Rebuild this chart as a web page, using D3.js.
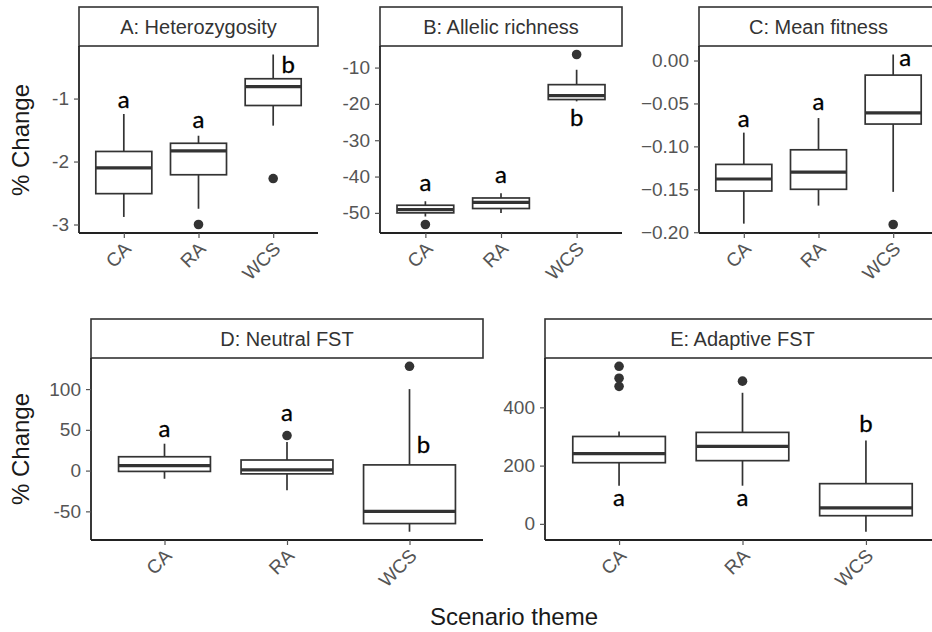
<!DOCTYPE html>
<html>
<head>
<meta charset="utf-8">
<script src="https://cdn.jsdelivr.net/npm/d3@7"></script>
<style>
  html, body { margin: 0; padding: 0; background: #fff; }
  svg { display: block; }
</style>
</head>
<body>
<svg id="chart" width="932" height="632"></svg>
<script>
// Scenario themes on the x axis of every panel
const categories = ["CA", "RA", "WCS"];

// Box summaries per theme: [lower whisker, Q1, median, Q3, upper whisker]
const heterozygosityBoxes = [
  [-2.88, -2.51, -2.10, -1.84, -1.245],
  [-2.75, -2.21, -1.83, -1.71, -1.59],
  [-1.43, -1.11, -0.81, -0.685, -0.30]
];
const heterozygosityOutliers = [[], [-3.0], [-2.27]];
const heterozygosityTicks = [-3, -2, -1];
const heterozygosityLetters = ["a", "a", "b"];
const heterozygosityLetterY = [-1.15, -1.46, -0.59];

const allelicBoxes = [
  [-51.0, -50.0, -49.1, -47.9, -46.8],
  [-50.0, -48.8, -47.1, -45.9, -44.6],
  [-19.3, -18.8, -17.7, -14.7, -10.6]
];
const allelicOutliers = [[-53.2], [], [-6.4]];
const allelicTicks = [-50, -40, -30, -20, -10];
const allelicLetters = ["a", "a", "b"];
const allelicLetterY = [-44.1, -41.7, -26.2];

const fitnessBoxes = [
  [-0.190, -0.152, -0.138, -0.121, -0.084],
  [-0.169, -0.150, -0.130, -0.104, -0.067],
  [-0.153, -0.074, -0.061, -0.017, 0.007]
];
const fitnessOutliers = [[], [], [-0.191]];
const fitnessTicks = [-0.20, -0.15, -0.10, -0.05, 0.00];
const fitnessLetters = ["a", "a", "a"];
const fitnessLetterY = [-0.0773, -0.0574, -0.0059];

const neutralBoxes = [
  [-10, -1, 6, 17, 33],
  [-24, -4, 1, 13, 35],
  [-75, -65, -50, 7, 100]
];
const neutralOutliers = [[], [43], [128]];
const neutralTicks = [-50, 0, 50, 100];
const neutralLetters = ["a", "a", "b"];
const neutralLetterY = [40.7, 61, 21];

const adaptiveBoxes = [
  [131, 210, 241, 300, 317],
  [131, 217, 266, 314, 450],
  [-27, 28, 55, 138, 286]
];
const adaptiveOutliers = [[472, 500, 541], [490], []];
const adaptiveTicks = [0, 200, 400];
const adaptiveLetters = ["a", "a", "b"];
const adaptiveLetterY = [62, 62, 314];

// Panel layout (pixels) and how each panel is fed
const panels = [
  { title: "A: Heterozygosity", left: 79, right: 318, stripTop: 7, top: 46, bottom: 233,
    boxes: heterozygosityBoxes, outliers: heterozygosityOutliers, ticks: heterozygosityTicks,
    fmt: d => String(d), letters: heterozygosityLetters, letterY: heterozygosityLetterY, letterShift: [0, 0, 15] },
  { title: "B: Allelic richness", left: 380, right: 622, stripTop: 7, top: 46, bottom: 233,
    boxes: allelicBoxes, outliers: allelicOutliers, ticks: allelicTicks,
    fmt: d => String(d), letters: allelicLetters, letterY: allelicLetterY, letterShift: [0, 0, 0] },
  { title: "C: Mean fitness", left: 699, right: 938, stripTop: 7, top: 46, bottom: 233,
    boxes: fitnessBoxes, outliers: fitnessOutliers, ticks: fitnessTicks,
    fmt: d3.format(".2f"), letters: fitnessLetters, letterY: fitnessLetterY, letterShift: [0, 0, 12] },
  { title: "D: Neutral FST", left: 91, right: 483, stripTop: 319, top: 358, bottom: 540,
    boxes: neutralBoxes, outliers: neutralOutliers, ticks: neutralTicks,
    fmt: d => String(d), letters: neutralLetters, letterY: neutralLetterY, letterShift: [0, 0, 14] },
  { title: "E: Adaptive FST", left: 545, right: 940, stripTop: 319, top: 358, bottom: 540,
    boxes: adaptiveBoxes, outliers: adaptiveOutliers, ticks: adaptiveTicks,
    fmt: d => String(d), letters: adaptiveLetters, letterY: adaptiveLetterY, letterShift: [0, 0, 0] }
];

const sansFont = "'Liberation Sans', Arial, sans-serif";
const letterFont = "Lato, 'Open Sans', sans-serif";
const ink = "#333";

const svg = d3.select("#chart");

panels.forEach(p => {
  const g = svg.append("g");

  // y domain: data extent plus 5% on each side
  const values = p.boxes.flat().concat(p.outliers.flat());
  const [lo, hi] = d3.extent(values);
  const pad = (hi - lo) * 0.05;
  const y = d3.scaleLinear().domain([lo - pad, hi + pad]).range([p.bottom, p.top]);
  const x = d3.scalePoint().domain(categories).range([p.left, p.right]).padding(0.6);
  const boxW = x.step() * 0.75;

  // strip with panel title
  g.append("rect")
    .attr("x", p.left).attr("y", p.stripTop)
    .attr("width", p.right - p.left).attr("height", p.top - p.stripTop)
    .attr("fill", "#fff").attr("stroke", ink).attr("stroke-width", 1.6);
  g.append("text")
    .attr("x", (p.left + p.right) / 2).attr("y", (p.stripTop + p.top) / 2)
    .attr("dy", "0.35em").attr("text-anchor", "middle")
    .attr("font-family", sansFont).attr("font-size", 20).attr("fill", "#333")
    .text(p.title);

  // boxes
  categories.forEach((c, i) => {
    const [wLo, q1, med, q3, wHi] = p.boxes[i];
    const cx = x(c);
    const b = g.append("g").attr("stroke", ink).attr("fill", "none");
    b.append("line").attr("x1", cx).attr("x2", cx).attr("y1", y(q3)).attr("y2", y(wHi)).attr("stroke-width", 1.7);
    b.append("line").attr("x1", cx).attr("x2", cx).attr("y1", y(q1)).attr("y2", y(wLo)).attr("stroke-width", 1.7);
    b.append("rect")
      .attr("x", cx - boxW / 2).attr("y", y(q3))
      .attr("width", boxW).attr("height", y(q1) - y(q3))
      .attr("fill", "#fff").attr("stroke-width", 1.7);
    b.append("line").attr("x1", cx - boxW / 2).attr("x2", cx + boxW / 2)
      .attr("y1", y(med)).attr("y2", y(med)).attr("stroke-width", 3.2);

    g.selectAll(null).data(p.outliers[i]).enter().append("circle")
      .attr("cx", cx).attr("cy", d => y(d)).attr("r", 4.8).attr("fill", ink);

    g.append("text")
      .attr("x", cx + p.letterShift[i]).attr("y", y(p.letterY[i]))
      .attr("text-anchor", "middle")
      .attr("font-family", letterFont).attr("font-size", 24).attr("fill", "#000")
      .attr("stroke", "#000").attr("stroke-width", 0.3)
      .text(p.letters[i]);
  });

  // axes
  const yAxis = g.append("g").attr("transform", `translate(${p.left},0)`)
    .call(d3.axisLeft(y).tickValues(p.ticks).tickFormat(p.fmt).tickSize(5).tickPadding(5));
  const xAxis = g.append("g").attr("transform", `translate(0,${p.bottom})`)
    .call(d3.axisBottom(x).tickSize(5).tickPadding(5));

  [yAxis, xAxis].forEach(a => {
    a.select(".domain").attr("stroke", "#222").attr("stroke-width", 1.8);
    a.selectAll(".tick line").attr("stroke", "#555").attr("stroke-width", 1.2);
    a.selectAll(".tick text").attr("font-family", sansFont).attr("font-size", 19).attr("fill", "#555");
  });
  yAxis.select(".domain").attr("d", `M0,${p.top}V${p.bottom}`);
  xAxis.select(".domain").attr("d", `M${p.left},0H${p.right}`);
  xAxis.selectAll(".tick text")
    .attr("text-anchor", "end")
    .attr("dy", null).attr("y", null)
    .attr("transform", "translate(8,17) rotate(-45)");
});

// shared axis titles
[140, 449].forEach(cy => {
  svg.append("text")
    .attr("transform", `translate(29,${cy}) rotate(-90)`)
    .attr("text-anchor", "middle")
    .attr("font-family", sansFont).attr("font-size", 24).attr("fill", "#1a1a1a")
    .text("% Change");
});
svg.append("text")
  .attr("x", 514).attr("y", 625)
  .attr("text-anchor", "middle")
  .attr("font-family", sansFont).attr("font-size", 24).attr("fill", "#1a1a1a")
  .text("Scenario theme");
</script>
</body>
</html>
